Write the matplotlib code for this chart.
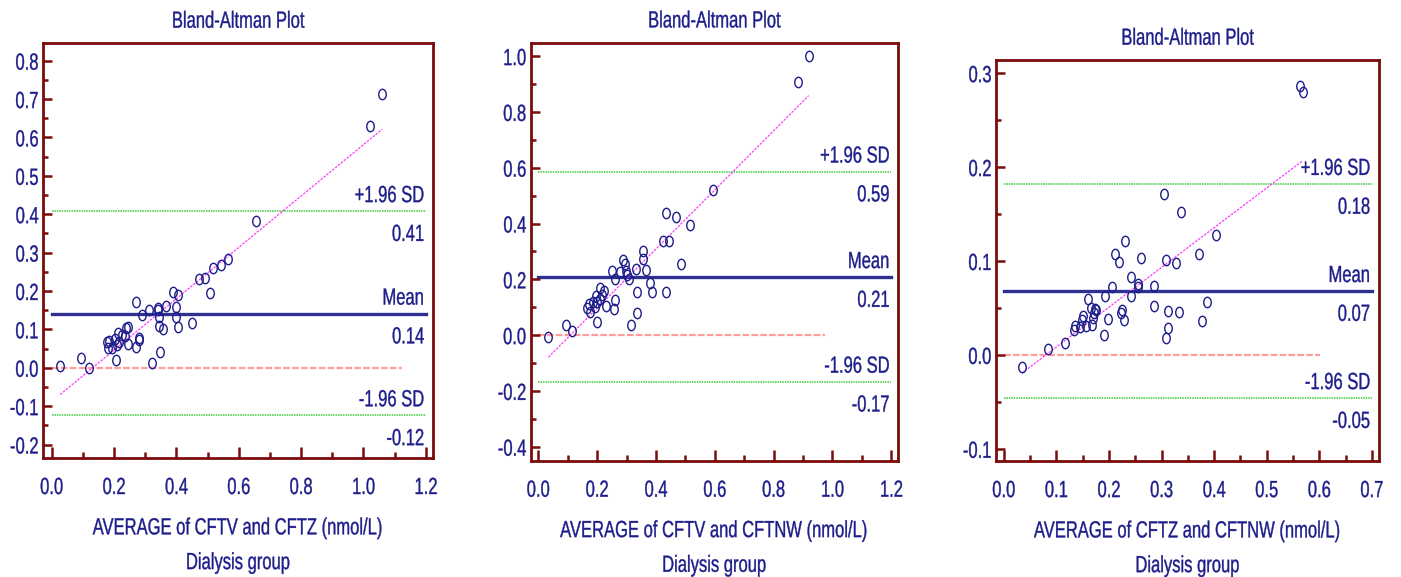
import numpy as np
import matplotlib
matplotlib.use("Agg")
import matplotlib.pyplot as plt
from matplotlib.path import Path
from matplotlib.patheffects import AbstractPathEffect
from matplotlib.transforms import Affine2D
from matplotlib.ticker import MultipleLocator, FormatStrFormatter

plt.rcParams['font.family'] = ['Liberation Sans', 'DejaVu Sans']
plt.rcParams['axes.unicode_minus'] = False

# panel 1: CFTV vs CFTZ
x1 = [0.027, 0.095, 0.118, 0.176, 0.185, 0.181, 0.193, 0.203, 0.207, 0.208, 0.213, 0.217,
      0.225, 0.236, 0.238, 0.246, 0.245, 0.271, 0.271, 0.279, 0.281, 0.289, 0.313, 0.322,
      0.340, 0.342, 0.343, 0.343, 0.346, 0.357, 0.366, 0.388, 0.398, 0.400, 0.404, 0.404,
      0.451, 0.473, 0.492, 0.509, 0.517, 0.542, 0.566, 0.655, 1.021, 1.060]
y1 = [0.004, 0.026, 0.000, 0.066, 0.070, 0.051, 0.051, 0.075, 0.020, 0.058, 0.091, 0.067,
      0.086, 0.082, 0.104, 0.105, 0.063, 0.170, 0.053, 0.077, 0.073, 0.137, 0.151, 0.013,
      0.156, 0.151, 0.132, 0.110, 0.042, 0.101, 0.161, 0.197, 0.159, 0.132, 0.189, 0.105,
      0.116, 0.230, 0.233, 0.194, 0.260, 0.267, 0.284, 0.382, 0.631, 0.714]

# panel 2: CFTV vs CFTNW
x2 = [0.034, 0.094, 0.114, 0.165, 0.171, 0.175, 0.185, 0.193, 0.196, 0.199, 0.201, 0.208,
      0.210, 0.216, 0.223, 0.229, 0.250, 0.256, 0.259, 0.261, 0.278, 0.289, 0.295, 0.298,
      0.303, 0.309, 0.314, 0.332, 0.334, 0.334, 0.355, 0.355, 0.365, 0.378, 0.385, 0.425,
      0.435, 0.435, 0.444, 0.467, 0.485, 0.516, 0.593, 0.884, 0.919]
y2 = [-0.005, 0.037, 0.013, 0.096, 0.112, 0.082, 0.118, 0.100, 0.139, 0.046, 0.118, 0.169,
      0.130, 0.144, 0.157, 0.106, 0.230, 0.094, 0.126, 0.202, 0.226, 0.271, 0.256, 0.230,
      0.214, 0.202, 0.038, 0.238, 0.154, 0.078, 0.300, 0.274, 0.235, 0.186, 0.154, 0.336,
      0.436, 0.154, 0.336, 0.424, 0.256, 0.396, 0.519, 0.908, 1.000]

# panel 3: CFTZ vs CFTNW
x3 = [0.034, 0.084, 0.117, 0.134, 0.135, 0.145, 0.148, 0.150, 0.156, 0.160, 0.165, 0.167,
      0.170, 0.172, 0.174, 0.175, 0.190, 0.192, 0.198, 0.205, 0.212, 0.219, 0.223, 0.224,
      0.228, 0.230, 0.241, 0.242, 0.256, 0.256, 0.261, 0.285, 0.285, 0.305, 0.308, 0.308,
      0.313, 0.313, 0.327, 0.333, 0.336, 0.372, 0.377, 0.387, 0.403, 0.563, 0.568]
y3 = [-0.013, 0.006, 0.013, 0.027, 0.031, 0.030, 0.037, 0.041, 0.031, 0.060, 0.050, 0.032,
      0.039, 0.045, 0.049, 0.048, 0.021, 0.063, 0.038, 0.072, 0.107, 0.099, 0.045, 0.048,
      0.037, 0.121, 0.083, 0.063, 0.076, 0.072, 0.103, 0.052, 0.073, 0.171, 0.101, 0.018,
      0.047, 0.029, 0.098, 0.046, 0.152, 0.107, 0.036, 0.056, 0.128, 0.286, 0.280]

means = [0.141, 0.208, 0.068]
upper_sd = [0.408, 0.586, 0.182]
lower_sd = [-0.124, -0.167, -0.046]
xlabels = ["AVERAGE of CFTV and CFTZ (nmol/L)",
           "AVERAGE of CFTV and CFTNW (nmol/L)",
           "AVERAGE of CFTZ and CFTNW (nmol/L)"]

navy = '#1c1c8a'
maroon = '#7a0c0c'
FS = 16.8


class Narrow(AbstractPathEffect):
    """squeeze glyphs sideways, the original uses a tall narrow face"""

    def __init__(self, anchor='center', sx=0.71, stroke=0.25):
        super().__init__()
        self.anchor = anchor
        self.sx = sx
        self.stroke = stroke

    def draw_path(self, renderer, gc, tpath, affine, rgbFace=None):
        ext = tpath.get_extents()
        cx = {'left': ext.x0, 'right': ext.x1}.get(self.anchor, (ext.x0 + ext.x1) / 2)
        sq = Affine2D().translate(-cx, 0).scale(self.sx, 1).translate(cx, 0)
        gc0 = renderer.new_gc()
        gc0.copy_properties(gc)
        gc0.set_linewidth(self.stroke)
        gc0.set_foreground(rgbFace)
        renderer.draw_path(gc0, tpath, sq + affine, rgbFace)
        gc0.restore()


# ellipse marker, a bit taller than wide like the original
circ = Path.unit_circle()
ell = Path(circ.vertices * np.array([0.72, 1.0]), circ.codes)

fig = plt.figure(figsize=(14.01, 5.77), dpi=100)

panels = [
    dict(rect=[0.0307, 0.2063, 0.2786, 0.7192], xlim=(-0.028, 1.224), ylim=(-0.235, 0.846),
         xmax=1.2, xmaj=0.2, ymaj=0.1, ybot=-0.2, ytop=0.8),
    dict(rect=[0.3788, 0.2016, 0.2622, 0.7244], xlim=(-0.026, 1.223), ylim=(-0.450, 1.048),
         xmax=1.2, xmaj=0.2, ymaj=0.2, ybot=-0.4, ytop=1.0),
    dict(rect=[0.7109, 0.2010, 0.2736, 0.6950], xlim=(-0.015, 0.714), ylim=(-0.113, 0.314),
         xmax=0.7, xmaj=0.1, ymaj=0.1, ybot=-0.1, ytop=0.3),
]
series = [(x1, y1), (x2, y2), (x3, y3)]

for i, p in enumerate(panels):
    ax = fig.add_axes(p['rect'])
    x = np.array(series[i][0])
    y = np.array(series[i][1])
    xmax = p['xmax']

    # regression line of differences on averages
    k, b = np.polyfit(x, y, 1)
    xs = np.array([x.min(), x.max()])
    ax.plot(xs, k * xs + b, color='#ff3cff', lw=0.9, ls=(0, (2, 1)), zorder=2)
    # line of equality
    ax.plot([0, x.max() * 1.06], [0, 0], color='#ff9c9c', lw=1.6, ls=(0, (3, 1)), zorder=1)
    # mean and limits of agreement
    ax.plot([0, xmax], [means[i]] * 2, color='#2e3192', lw=2.4, zorder=1)
    for lvl in (upper_sd[i], lower_sd[i]):
        ax.plot([0, xmax], [lvl] * 2, color='#3ccc3c', lw=1.1, ls=(0, (1, 0.6)), zorder=1)

    ax.plot(x, y, ls='none', marker=ell, ms=7.5, mfc='none', mec=navy, mew=1.0, zorder=3)

    for lvl, name in ((upper_sd[i], '+1.96 SD'), (means[i], 'Mean'), (lower_sd[i], '-1.96 SD')):
        t = ax.annotate(name, xy=(xmax, lvl), xytext=(-1, 6.5), textcoords='offset points',
                        ha='right', va='baseline', color=navy, fontsize=FS)
        t.set_path_effects([Narrow('right')])
        t = ax.annotate('%.2f' % lvl, xy=(xmax, lvl), xytext=(-1, -8.5), textcoords='offset points',
                        ha='right', va='top', color=navy, fontsize=FS)
        t.set_path_effects([Narrow('right')])

    ax.set_xlim(*p['xlim'])
    ax.set_ylim(*p['ylim'])
    ax.set_xticks(np.arange(0, xmax + 1e-9, p['xmaj']))
    ax.set_yticks(np.arange(p['ybot'], p['ytop'] + 1e-9, p['ymaj']))
    ax.xaxis.set_minor_locator(MultipleLocator(p['xmaj'] / 2))
    ax.yaxis.set_minor_locator(MultipleLocator(p['ymaj'] / 2))
    ax.xaxis.set_major_formatter(FormatStrFormatter('%.1f'))
    ax.yaxis.set_major_formatter(FormatStrFormatter('%.1f'))

    ax.tick_params(which='both', direction='in', color=maroon, width=1.8,
                   labelcolor=navy, labelsize=FS, top=False, right=False)
    ax.tick_params(axis='x', which='major', length=8, pad=13)
    ax.tick_params(axis='x', which='minor', length=4)
    ax.tick_params(axis='y', which='major', length=6.5, pad=3)
    ax.tick_params(axis='y', which='minor', length=3.5)
    for lab in ax.get_xticklabels():
        lab.set_path_effects([Narrow('center')])
    for lab in ax.get_yticklabels():
        lab.set_path_effects([Narrow('right')])

    for s in ax.spines.values():
        s.set_color(maroon)
        s.set_linewidth(2)

    t = ax.set_title('Bland-Altman Plot', color=navy, fontsize=FS, pad=11)
    t.set_path_effects([Narrow('center')])
    t = ax.set_xlabel(xlabels[i] + '\nDialysis group', color=navy, fontsize=FS,
                      labelpad=12.5, linespacing=1.65)
    t.set_path_effects([Narrow('center')])

fig.savefig('out.png', dpi=100)
